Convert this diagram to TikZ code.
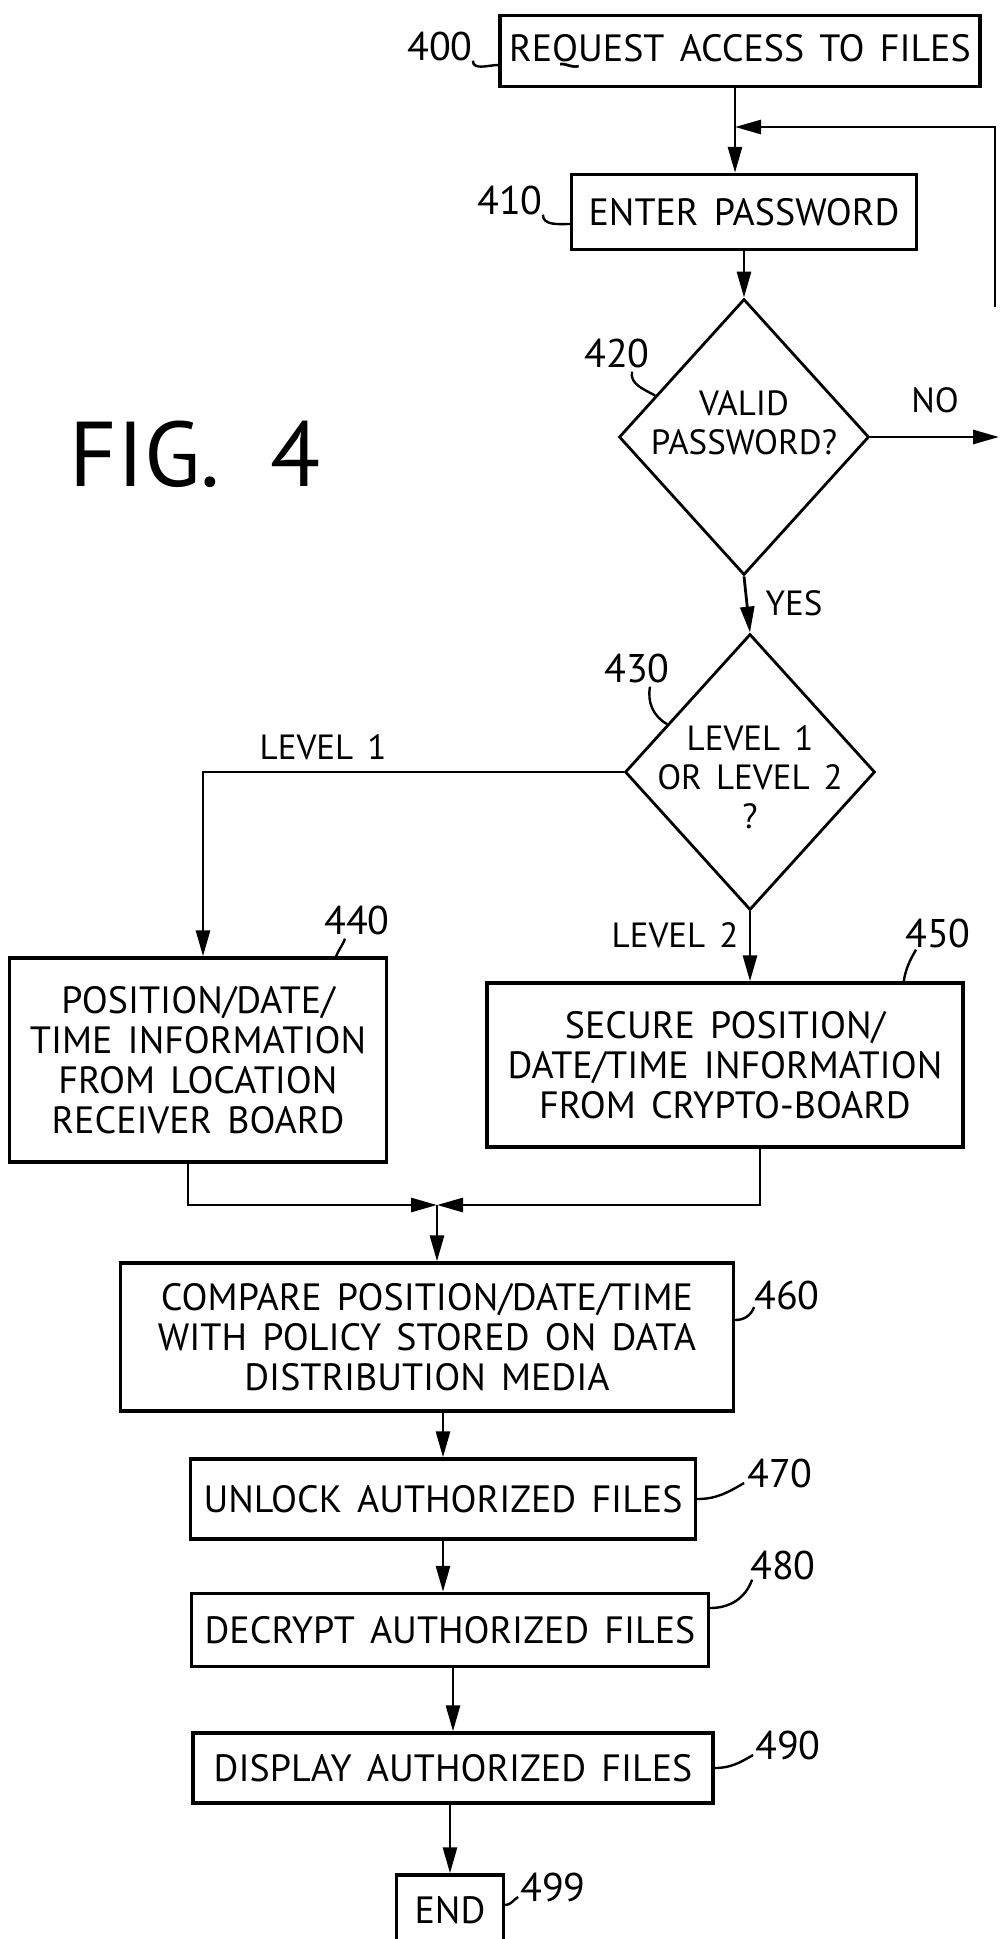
\documentclass[tikz,border=0pt]{standalone}
\usepackage{fontspec}
\setmainfont{PT Sans}[WordSpace=1.5]
\usetikzlibrary{arrows.meta, shapes.geometric, calc}
\tikzset{
>={Triangle[length=26pt,width=14pt]},
line/.style={line width=2.8pt},
leader/.style={line width=2.4pt},
box/.style={%
    rectangle,
    draw=black,
    line width=3.4pt,
    inner sep=0pt,
    align=center,
    font=\fontsize{38}{40}\selectfont
},
decision/.style={%
    diamond,draw=black,line width=2.8pt,inner sep=0pt,
    minimum width=250pt,minimum height=276pt
},
qtext/.style={align=center,inner sep=0pt,font=\fontsize{35}{39}\selectfont},
ref/.style={inner sep=0pt,font=\fontsize{40}{42}\selectfont},
tag/.style={inner sep=0pt,font=\fontsize{35}{38}\selectfont},
}

\begin{document}
\begin{tikzpicture}[x=1pt,y=-1pt]
	\useasboundingbox (0,0) rectangle (999,1939);

	\node[inner sep=0pt,font=\fontsize{92}{100}\selectfont] at (195,454) (fig) {FIG.\hspace{50pt}4};

	% boxes and decisions
	\node[box,minimum width=480pt,minimum height=71pt] at (740,51) (b400) {REQUEST ACCESS TO FILES};
	\node[box,minimum width=345pt,minimum height=75pt] at (744,212) (b410) {ENTER PASSWORD};
	\node[decision,label={[qtext,yshift=14pt]center:VALID\\PASSWORD?}] at (744,437) (d420) {};
	\node[decision,label={[qtext,yshift=-5pt]center:LEVEL 1\\OR LEVEL 2\\?}] at (750,772) (d430) {};
	\node[box,minimum width=377pt,minimum height=204pt] at (198,1060) (b440) {POSITION/DATE/\\TIME INFORMATION\\FROM LOCATION\\RECEIVER BOARD};
	\node[box,minimum width=476pt,minimum height=164pt] at (725,1065) (b450) {SECURE POSITION/\\DATE/TIME INFORMATION\\FROM CRYPTO-BOARD};
	\node[box,minimum width=613pt,minimum height=148pt] at (427,1337) (b460) {COMPARE POSITION/DATE/TIME\\WITH POLICY STORED ON DATA\\DISTRIBUTION MEDIA};
	\node[box,minimum width=505pt,minimum height=80pt] at (443,1499) (b470) {UNLOCK AUTHORIZED FILES};
	\node[box,minimum width=517pt,minimum height=73pt] at (450,1630) (b480) {DECRYPT AUTHORIZED FILES};
	\node[box,minimum width=520pt,minimum height=70pt] at (453,1768) (b490) {DISPLAY AUTHORIZED FILES};
	\node[box,minimum width=107pt,minimum height=70pt] at (450,1910) (b499) {END};

	% branch texts
	\node[tag] at (935,400) (no) {NO};
	\node[tag] at (794,603) (yes) {YES};
	\node[tag] at (323,747) (lev1) {LEVEL 1};
	\node[tag] at (675,935) (lev2) {LEVEL 2};

	% reference numerals
	\node[ref] at (440,46) (l400) {400};
	\node[ref] at (510,200) (l410) {410};
	\node[ref] at (617,353) (l420) {420};
	\node[ref] at (637,668) (l430) {430};
	\node[ref] at (357,920) (l440) {440};
	\node[ref] at (938,933) (l450) {450};
	\node[ref] at (787,1295) (l460) {460};
	\node[ref] at (780,1473) (l470) {470};
	\node[ref] at (783,1565) (l480) {480};
	\node[ref] at (788,1745) (l490) {490};
	\node[ref] at (553,1887) (l499) {499};

	\coordinate (j1) at (735,127);
	\coordinate (loopend) at (995,307);
	\coordinate (noend) at (999,437);
	\coordinate (m) at (437,1205);

	% flow
	\draw[line] (b400.south -| j1) -- (j1);
	\draw[line,->] (j1) -- (b410.north -| j1);
	\draw[line,->] (loopend) |- (j1);
	\draw[line,->] (b410.south -| d420.north) -- (d420.north);
	\draw[line,->] (d420.east) -- (noend);
	\draw[line,->] (d420.south) -- (d430.north);
	\draw[line,->] (d430.west) -| ($(b440.north)+(5,0)$);
	\draw[line,->] (d430.south) -- (b450.north -| d430.south);
	\draw[line,->] ($(b440.south)+(-10,0)$) |- (m);
	\draw[line,->] ($(b450.south)+(35,0)$) |- (m);
	\draw[line,->] (m) -- (b460.north -| m);
	\draw[line,->] (b460.south -| b470.north) -- (b470.north);
	\draw[line,->] (b470.south) -- (b480.north -| b470.south);
	\draw[line,->] (b480.south -| b490.north) -- (b490.north);
	\draw[line,->] (b490.south -| b499.north) -- (b499.north);

	% leaders
	\draw[leader] (l400.south east) to[out=-90,in=180] ($(b400.west)+(0,14)$);
	\draw[leader] (l410.south east) to[out=-90,in=180] ($(b410.west)+(0,12)$);
	\draw[leader] ($(l420.south)+(15,4)$) to[out=-100,in=150] (d420.155);
	\draw[leader] ($(l430.south)+(13,4)$) to[out=-100,in=150] (d430.150);
	\draw[leader] ($(l440.south)+(-12,4)$) to[out=-110,in=70] ($(b440.north east)+(-52,0)$);
	\draw[leader] ($(l450.south)+(-22,2)$) to[out=-120,in=80] ($(b450.north east)+(-61,0)$);
	\draw[leader] ($(l460.west)+(0,12)$) to[out=-110,in=0] ($(b460.east)+(0,-17)$);
	\draw[leader] ($(l470.west)+(-3,10)$) to[out=-150,in=0] (b470.east);
	\draw[leader] ($(l480.south west)+(2,0)$) to[out=-110,in=0] ($(b480.east)+(0,-22)$);
	\draw[leader] ($(l490.west)+(-2,10)$) to[out=-150,in=0] (b490.east);
	\draw[leader] ($(l499.west)+(-2,10)$) to[out=-150,in=0] ($(b499.east)+(0,-5)$);
\end{tikzpicture}
\end{document}
